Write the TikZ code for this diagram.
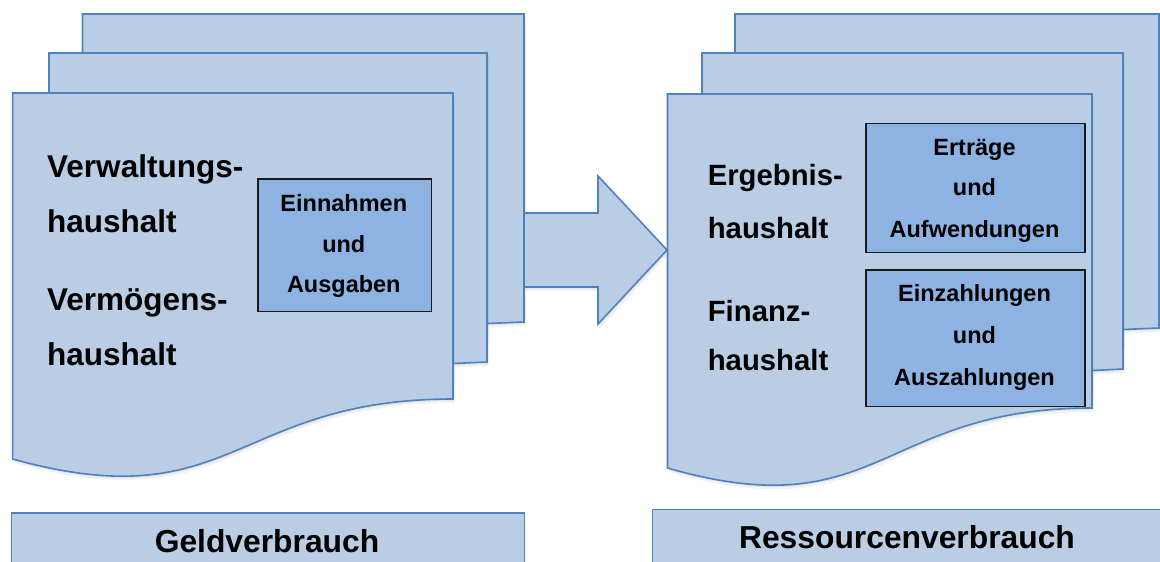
\documentclass[tikz,border=0pt]{standalone}
\usepackage{fontspec}
\setmainfont{Liberation Sans}
\definecolor{sheetfill}{HTML}{B9CDE5}
\definecolor{sheetline}{HTML}{4F81BD}
\definecolor{boxfill}{HTML}{8DB3E2}
\definecolor{boxline}{HTML}{1A1A1A}
\begin{document}
\begin{tikzpicture}[x=1pt,y=-1pt,
  softshadow/.style={
    preaction={fill=black, fill opacity=0.06, draw=none, transform canvas={shift={(1pt,-2pt)}}},
    preaction={fill=black, fill opacity=0.05, draw=none, transform canvas={shift={(2pt,-4pt)}}}},
  sheet/.style={fill=sheetfill, draw=sheetline, line width=1.6pt, line join=miter, softshadow},
  itembox/.style={rectangle, fill=boxfill, draw=boxline, line width=1.6pt, inner sep=0pt},
  band/.style={rectangle, fill=sheetfill, draw=sheetline, line width=1.6pt, inner sep=0pt, softshadow},
  bigtext/.style={inner sep=0pt, anchor=base west, font=\bfseries\fontsize{31.5}{31.5}\selectfont},
  midtext/.style={inner sep=0pt, anchor=base west, font=\bfseries\fontsize{29.3}{29.3}\selectfont},
  smalltext/.style={inner sep=0pt, anchor=base, font=\bfseries\fontsize{23.5}{23.5}\selectfont},
  bandtext/.style={inner sep=0pt, anchor=base, font=\bfseries\fontsize{31.8}{31.8}\selectfont}]
\useasboundingbox (0,0) rectangle (1160,562);

% ---- left stack of sheets: Kameralistik ----
\path[sheet] (82.5,14) -- (524,14) -- (524,322) -- (487,323.5) -- (487,340) -- (82.5,340) -- cycle;
\path[sheet] (49,53) -- (487,53) -- (487,362) -- (453,363.5) -- (453,380) -- (49,380) -- cycle;

% block arrow between the two stacks
\path[sheet] (524,213) -- (598,213) -- (598,176) -- (667,250) -- (598,324) -- (598,287) -- (524,287) -- cycle;

\path[sheet] (12.6,93) -- (453,93) -- (453,399)
  .. controls (233,399) and (233,520) .. (12.6,459) -- cycle;

\node[bigtext] (vw1) at (47,177) {Verwaltungs-};
\node[bigtext] (vw2) at (47,232) {haushalt};
\node[bigtext] (vm1) at (47,310) {Vermögens-};
\node[bigtext] (vm2) at (47,365) {haushalt};

\node[itembox, minimum width=173.6pt, minimum height=132.7pt, anchor=north west] (ea) at (257,178) {};
\node[smalltext] (ea1) at (343.8,211) {Einnahmen};
\node[smalltext] (ea2) at (343.8,252) {und};
\node[smalltext] (ea3) at (343.8,292) {Ausgaben};

% ---- right stack of sheets: Doppik ----
\path[sheet] (735,14) -- (1159,14) -- (1159,328) -- (1123,329.5) -- (1123,345) -- (735,345) -- cycle;
\path[sheet] (702,53) -- (1123,53) -- (1123,369) -- (1092,370.5) -- (1092,390) -- (702,390) -- cycle;
\path[sheet] (667.5,94) -- (1092,94) -- (1092,408)
  .. controls (879.5,408) and (879.5,529) .. (667.5,468) -- cycle;

\node[midtext] (eh1) at (707.6,185) {Ergebnis-};
\node[midtext] (eh2) at (707.6,238) {haushalt};
\node[midtext] (fh1) at (707.6,321) {Finanz-};
\node[midtext] (fh2) at (707.6,370) {haushalt};

\node[itembox, minimum width=219pt, minimum height=129pt, anchor=north west] (ertr) at (865,122.7) {};
\node[smalltext] (ertr1) at (974.5,155) {Erträge};
\node[smalltext] (ertr2) at (974.5,195) {und};
\node[smalltext] (ertr3) at (974.5,237) {Aufwendungen};

\node[itembox, minimum width=219pt, minimum height=136.7pt, anchor=north west] (zahl) at (865,269) {};
\node[smalltext] (zahl1) at (974.5,301.7) {Einzahlungen};
\node[smalltext] (zahl2) at (974.5,343) {und};
\node[smalltext] (zahl3) at (974.5,385) {Auszahlungen};

% ---- captions ----
\node[band, minimum width=513pt, minimum height=60pt, anchor=north west] (geld) at (10.5,512) {};
\node[bandtext] (geldtxt) at (267,552.7) {Geldverbrauch};
\node[band, minimum width=525pt, minimum height=64pt, anchor=north west] (ress) at (651.5,508.5) {};
\node[bandtext] (resstxt) at (907,548) {Ressourcenverbrauch};
\end{tikzpicture}
\end{document}
